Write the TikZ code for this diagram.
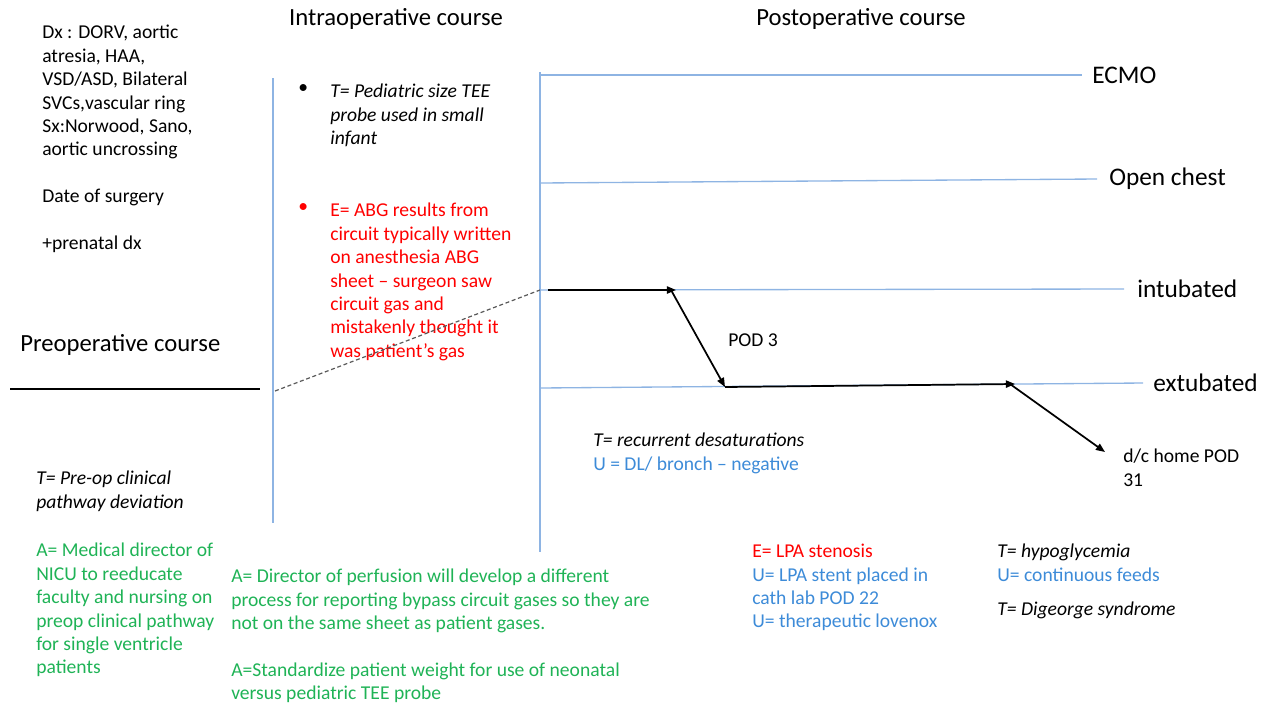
\documentclass[tikz,border=0pt]{standalone}
\usepackage{fontspec}
\setmainfont{Carlito}
\usepackage{tikz}
\usetikzlibrary{arrows.meta,positioning,calc}
\definecolor{lnblue}{HTML}{8EB4E3}
\definecolor{txblue}{HTML}{3D8BD8}
\definecolor{txred}{HTML}{FF0000}
\definecolor{txgreen}{HTML}{1FB356}

\begin{document}
\begin{tikzpicture}[
  x=0.75pt, y=-0.75pt,
  font=\fontsize{14.7}{17.55}\selectfont,
  >={Triangle[length=2.4mm,width=1.9mm]},
  txt/.style={inner sep=0pt, align=left, anchor=north west},
  itxt/.style={txt, font=\fontsize{14.7}{17.55}\selectfont\itshape},
  hdr/.style={inner sep=0pt, font=\fontsize{18.5}{22}\selectfont},
  lbl/.style={inner sep=0pt, anchor=west, font=\fontsize{19}{22}\selectfont},
  tline/.style={draw=lnblue, line width=1pt},
  course/.style={draw=black, line width=1.3pt},
]
\useasboundingbox (0,0) rectangle (1266,704);

% ===== headers =====
\node[hdr] (hIntra) at (396,19) {Intraoperative course};
\node[hdr] (hPost) at (861,19) {Postoperative course};
\node[hdr,anchor=west] (hPre) at (20,345) {Preoperative course};

% ===== patient summary =====
\node[txt] (dx) at (42,25) {Dx : DORV, aortic\\ atresia, HAA,\\ VSD/ASD, Bilateral\\
  SVCs,vascular ring\\ Sx:Norwood, Sano,\\ aortic uncrossing\\[17.55pt]
  Date of surgery\\[17.55pt] +prenatal dx};

% ===== preoperative =====
\node[itxt] (preT) at (36,471) {T= Pre-op clinical\\ pathway deviation};
\node[txt,text=txgreen] (preA) at (36,543) {A= Medical director of\\ NICU to reeducate\\
  faculty and nursing on\\ preop clinical pathway\\ for single ventricle\\ patients};

% ===== intraoperative =====
\node[txt] (b1) at (298,84) {•};
\node[itxt] (intT) at (330,84) {T= Pediatric size TEE\\ probe used in small\\ infant};
\node[txt,text=txred] (b2) at (298,203) {•};
\node[txt,text=txred] (intE) at (330,203) {E= ABG results from\\ circuit typically written\\
  on anesthesia ABG\\ sheet -- surgeon saw\\ circuit gas and\\ mistakenly thought it\\ was patient’s gas};
\node[txt,text=txgreen] (intA) at (231,569) {A= Director of perfusion will develop a different\\
  process for reporting bypass circuit gases so they are\\ not on the same sheet as patient gases.\\[17.55pt]
  A=Standardize patient weight for use of neonatal\\ versus pediatric TEE probe};

% ===== postoperative =====
\node[lbl] (ecmo) at (1092,75) {ECMO};
\node[lbl] (open) at (1109,179) {Open chest};
\node[lbl] (intub) at (1137,289) {intubated};
\node[lbl] (extub) at (1153,383) {extubated};
\node[txt] (pod3) at (728,334) {POD 3};
\node[txt] (dc) at (1123,449) {d/c home POD\\ 31};
\node[txt] (desat) at (593,433) {\textit{T= recurrent desaturations}\\ \textcolor{txblue}{U = DL/ bronch -- negative}};
\node[txt,text=txblue] (lpa) at (752,544) {\textcolor{txred}{E= LPA stenosis}\\ U= LPA stent placed in\\
  cath lab POD 22\\ U= therapeutic lovenox};
\node[txt] (hypo) at (997,544) {\textit{T= hypoglycemia}\\ \textcolor{txblue}{U= continuous feeds}\\[8pt]
  \textit{T= Digeorge syndrome}};

% ===== time lines =====
\coordinate (preS) at (10,389);
\coordinate (preE) at (260,389);
\coordinate (intraTop) at (273,78);
\coordinate (intraBot) at (273,523);
\coordinate (postTop) at (540,72);
\coordinate (postBot) at (540,552);
\draw[course,line width=1.5pt] (preS) -- (preE);
\draw[tline] (intraTop) -- (intraBot);
\draw[tline] (postTop) -- (postBot);
\draw[tline] (540,75) -- ($(ecmo.west)+(-10,0)$);
\draw[tline] (540,183) -- ($(open.west)+(-12,0)$);
\draw[tline] (540,290) -- ($(intub.west)+(-13,0)$);
\draw[tline] (540,388) -- ($(extub.west)+(-10,0)$);

% ===== patient course =====
\coordinate (gasS) at (275,391);
\coordinate (gasE) at (540,290);
\coordinate (inS) at (548,290);
\coordinate (inE) at (676,290);
\coordinate (exS) at (725,387);
\coordinate (exE) at (1015,384);
\coordinate (home) at (1105,452);
\draw[dash pattern=on 3pt off 2pt,draw=black!65,line width=0.9pt] (gasS) -- (gasE);
\draw[course,->] (inS) -- (inE);
\draw[course,->] ($(inE)+(-5,0)$) -- (exS);
\draw[course,->] (exS) -- (exE);
\draw[course,->] ($(exE)+(-5,0)$) -- (home);

\end{tikzpicture}
\end{document}
